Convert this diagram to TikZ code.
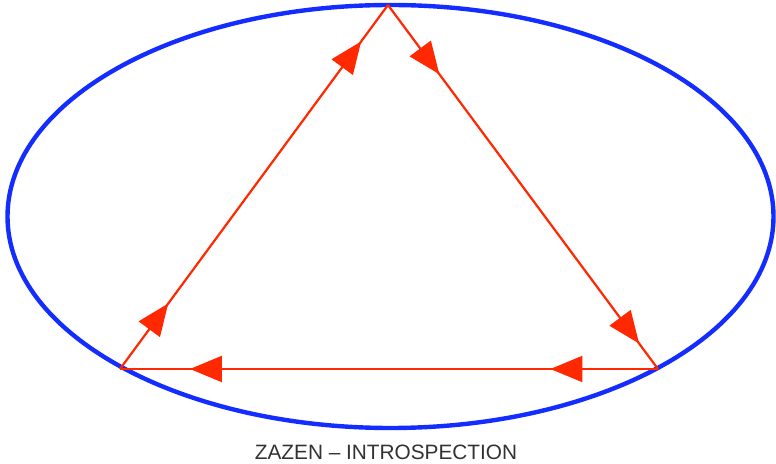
\documentclass[tikz,border=0pt]{standalone}
\usepackage{fontspec}
\setmainfont{Liberation Sans}
\usetikzlibrary{arrows.meta,decorations.markings}
\definecolor{ered}{RGB}{255,40,0}
\definecolor{eblue}{RGB}{20,45,255}
\definecolor{capgray}{RGB}{50,50,50}
\tikzset{
  edge/.style={draw=ered,line width=1.1pt},
  twoarrows/.style 2 args={postaction={decorate},decoration={markings,
     mark=at position #1 with {\arrow{Triangle[length=16pt,width=13pt]}},
     mark=at position #2 with {\arrow{Triangle[length=16pt,width=13pt]}}}},
  ring/.style={draw=eblue,line width=2.2pt},
  caption/.style={text=capgray,font=\fontsize{10.4}{12}\selectfont}
}
\begin{document}
\begin{tikzpicture}[x=0.5pt,y=-0.5pt]
\useasboundingbox (0,0) rectangle (776,464);
\draw[ring] (390.5,216.5) ellipse [x radius=383, y radius=211.5];
\coordinate (T) at (388,5);
\coordinate (L) at (120,369);
\coordinate (R) at (658,369);
\draw[edge,twoarrows={0.18}{0.9}] (L) -- (T);
\draw[edge,twoarrows={0.19}{0.93}] (T) -- (R);
\draw[edge,twoarrows={0.2}{0.87}] (R) -- (L);
\node[caption] (cap) at (386,452) {ZAZEN – INTROSPECTION};
\end{tikzpicture}
\end{document}
